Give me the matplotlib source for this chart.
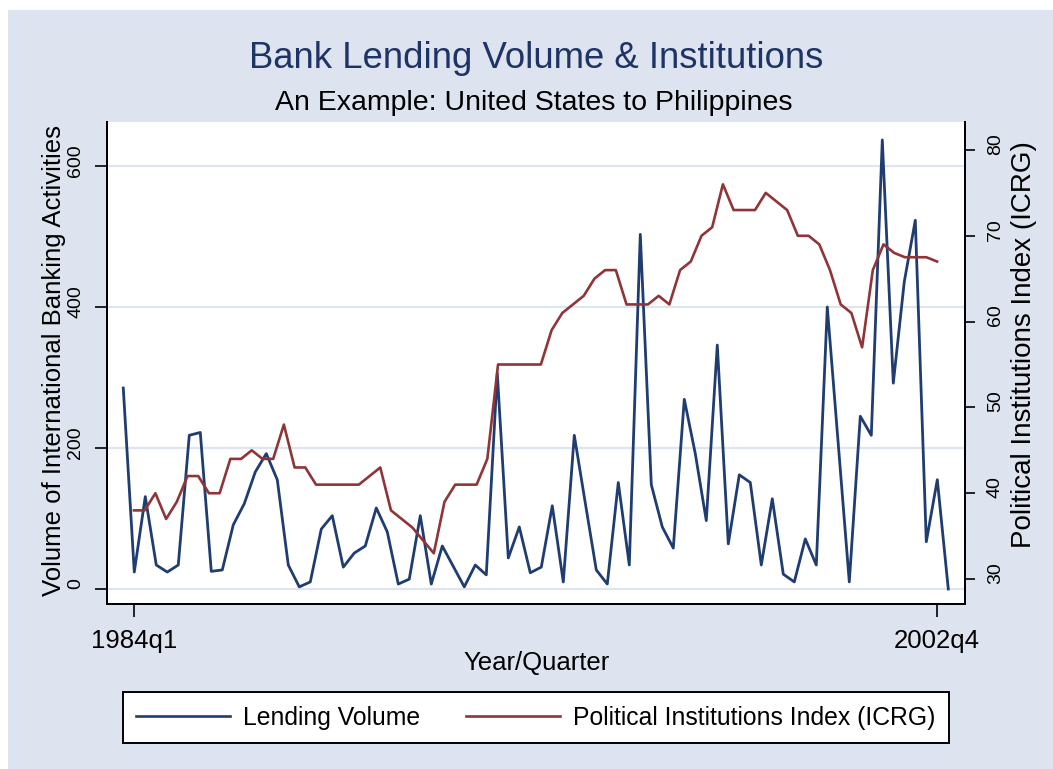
import numpy as np
import matplotlib
matplotlib.use("Agg")
import matplotlib.pyplot as plt
from matplotlib.patches import Rectangle
from matplotlib.transforms import ScaledTranslation

plt.rcParams['font.family'] = ['Liberation Sans', 'DejaVu Sans']

# ---------------- data ----------------
title = "Bank Lending Volume & Institutions"
subtitle = "An Example: United States to Philippines"
xtick_labels = ["1984q1", "2002q4"]
xtick_quarters = [0, 75]          # quarters since 1984q1

lending_volume = [285, 24, 131, 34, 24, 34, 218, 222, 25, 27, 91, 121, 166, 192,
                  155, 34, 3, 10, 85, 104, 31, 51, 61, 115, 81, 7, 14, 104, 7, 61,
                  32, 3, 34, 20, 306, 44, 88, 23, 31, 118, 10, 218, 122, 27, 7, 151,
                  34, 503, 148, 88, 58, 269, 192, 97, 346, 64, 162, 151, 34, 128, 21,
                  10, 71, 34, 400, 205, 10, 245, 218, 637, 292, 436, 523, 67, 155, 0]
# lending series is drawn on its own (slightly stretched) time index from 1983q4
lending_start, lending_end = -1.0, 76.05

political_index = [38, 38, 40, 37, 39, 42, 42, 40, 40, 44, 44, 45, 44, 44, 48, 43,
                   43, 41, 41, 41, 41, 41, 42, 43, 38, 37, 36, 34.5, 33, 39, 41, 41,
                   41, 44, 55, 55, 55, 55, 55, 59, 61, 62, 63, 65, 66, 66, 62, 62,
                   62, 63, 62, 66, 67, 70, 71, 76, 73, 73, 73, 75, 74, 73, 70, 70,
                   69, 66, 62, 61, 57, 66, 69, 68, 67.5, 67.5, 67.5, 67]

left_ticks = [0, 200, 400, 600]
right_ticks = [30, 40, 50, 60, 70, 80]

# ---------------- figure ----------------
W, H = 1053, 769
fig = plt.figure(figsize=(W / 100, H / 100), dpi=100, facecolor='white')
BG = '#dde4ef'
NAVY = '#1f3d70'
MAROON = '#8f3538'
fig.patches.append(Rectangle((8 / W, 0), 1 - 8 / W, 1 - 10 / H, transform=fig.transFigure,
                             facecolor=BG, edgecolor='none', zorder=-10))

L, R, T, B = 107, 965, 122, 604
ax = fig.add_axes([L / W, 1 - B / H, (R - L) / W, (B - T) / H])
ax.set_facecolor('white')

lend_x = np.linspace(lending_start, lending_end, len(lending_volume))
pol_x = np.arange(len(political_index))

ln1, = ax.plot(lend_x, lending_volume, color=NAVY, lw=2.0, zorder=3,
               label="Lending Volume")
ax2 = ax.twinx()
ln2, = ax2.plot(pol_x, political_index, color=MAROON, lw=1.9, zorder=3,
                label="Political Institutions Index (ICRG)")

ax.set_xlim(-2.52, 77.61)
ax.set_ylim(-21.3, 662.4)
ax2.set_ylim(27.09, 83.26)

ax.set_yticks(left_ticks)
ax.set_yticklabels([str(v) for v in left_ticks], rotation=90, rotation_mode='anchor',
                   ha='center', va='baseline')
ax2.set_yticks(right_ticks)
ax2.set_yticklabels([str(v) for v in right_ticks], rotation=90, rotation_mode='anchor',
                    ha='center', va='top')
ax.set_xticks(xtick_quarters)
ax.set_xticklabels(xtick_labels)

ax.grid(axis='y', color='#dfe5ef', lw=1.6, zorder=0)
ax.set_axisbelow(True)

for a in (ax, ax2):
    a.spines['top'].set_visible(False)
    for s in ('left', 'right', 'bottom'):
        a.spines[s].set_linewidth(1.4)
        a.spines[s].set_color('black')

ax.tick_params(axis='x', length=9.5, width=1.2, pad=8.6, labelsize=18.5)
ax.tick_params(axis='y', length=8.6, width=1.2, pad=10.8, labelsize=14)
ax2.tick_params(axis='y', length=7.2, width=1.2, pad=8.6, labelsize=14)

# Stata draws the rotated y labels slightly above their ticks
for a, dy in ((ax, 5), (ax2, 6)):
    for lab in a.get_yticklabels():
        lab.set_transform(lab.get_transform() +
                          ScaledTranslation(0, dy / 100, fig.dpi_scale_trans))

# titles
fig.text(536 / W, 1 - 58 / H, title, ha='center', va='center', fontsize=26.3, color='#1e3466')
fig.text(534 / W, 1 - 103 / H, subtitle, ha='center', va='center', fontsize=20.5, color='black')
fig.text(537 / W, 1 - 663 / H, "Year/Quarter", ha='center', va='center', fontsize=18.5)
fig.text(54 / W, 1 - 360 / H, "Volume of International Banking Activities", rotation=90,
         ha='center', va='center', fontsize=18.5)
fig.text(1024 / W, 1 - 345 / H, "Political Institutions Index (ICRG)", rotation=90,
         ha='center', va='center', fontsize=20)

leg = fig.legend(handles=[ln1, ln2], loc='center', ncol=2,
                 bbox_to_anchor=(536 / W, 1 - 717.5 / H), fontsize=17.8,
                 handlelength=3.8, handletextpad=0.53, columnspacing=1.86,
                 borderpad=0.53, fancybox=False, framealpha=1,
                 edgecolor='black', facecolor='white')
leg.get_frame().set_linewidth(1.4)
for h in leg.legend_handles:
    h.set_linewidth(1.9)

fig.savefig("out.png", dpi=100, facecolor='white')
